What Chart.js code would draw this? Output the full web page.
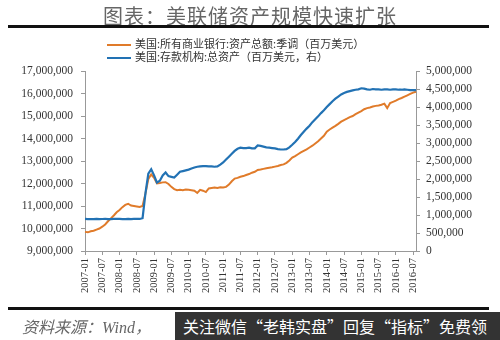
<!DOCTYPE html>
<html>
<head>
<meta charset="utf-8">
<script src="https://cdn.jsdelivr.net/npm/chart.js@4/dist/chart.umd.min.js"></script>
<style>
  html, body { margin: 0; padding: 0; background: #fff; }
  #wrap { position: relative; width: 500px; height: 340px; overflow: hidden; font-family: "Noto Sans CJK SC", sans-serif; }
  #c { position: absolute; left: 0; top: 0; }
  .title { position: absolute; top: 1px; left: 0; width: 500px; text-align: center; font-size: 20px; color: #666; letter-spacing: 1px; }
  .rule { position: absolute; left: 8px; width: 481px; height: 3px; background: #111; }
  .leg { position: absolute; left: 107px; font-size: 11px; color: #333; line-height: 13px; white-space: nowrap; }
  .leg i { display: inline-block; width: 24px; height: 2px; vertical-align: middle; margin-right: 4px; }
  .src { position: absolute; left: 22px; top: 314px; font-size: 16px; color: #666; font-style: italic; font-family: "Liberation Serif", "Noto Sans CJK SC", serif; }
  .mark { position: absolute; left: 175px; top: 312px; width: 325px; height: 28px; background: #333; color: #fff; font-size: 16px; line-height: 28px; padding-left: 8px; box-sizing: border-box; white-space: nowrap; }
</style>
</head>
<body>
<div id="wrap">
  <canvas id="c" width="500" height="340"></canvas>
  <div class="title">图表：美联储资产规模快速扩张</div>
  <div class="rule" style="top:25px"></div>
  <div class="leg" style="top:37px"><i style="background:#E07B2A"></i>美国:所有商业银行:资产总额:季调（百万美元）</div>
  <div class="leg" style="top:50px"><i style="background:#2272B4"></i>美国:存款机构:总资产（百万美元，右）</div>
  <div class="rule" style="top:307px"></div>
  <div class="src">资料来源：Wind，</div>
  <div class="mark">关注微信“老韩实盘”回复“指标”免费领</div>
</div>
<script>
// monthly, 2007-01 .. 2016-08
const startYear = 2007;
const monthCount = 116;

// 美国:所有商业银行:资产总额:季调（百万美元）- left axis
const bankAssets = [
  9850000, 9830000, 9880000, 9900000, 9950000, 10000000, 10080000, 10180000, 10320000, 10450000, 10580000, 10720000,
  10820000, 10950000, 11050000, 11100000, 11020000, 11000000, 10980000, 10960000, 11000000, 11550000, 12200000, 12400000,
  12250000, 12000000, 12020000, 12050000, 12060000, 11980000, 11850000, 11750000, 11700000, 11720000, 11700000, 11730000,
  11720000, 11700000, 11680000, 11580000, 11720000, 11680000, 11620000, 11780000, 11800000, 11820000, 11800000, 11830000,
  11820000, 11850000, 11950000, 12100000, 12220000, 12250000, 12300000, 12330000, 12380000, 12420000, 12480000, 12520000,
  12600000, 12620000, 12650000, 12680000, 12700000, 12720000, 12750000, 12780000, 12820000, 12850000, 12920000, 13020000,
  13150000, 13220000, 13300000, 13380000, 13450000, 13520000, 13600000, 13680000, 13780000, 13880000, 14000000, 14120000,
  14300000, 14400000, 14480000, 14560000, 14650000, 14750000, 14820000, 14880000, 14950000, 15000000, 15080000, 15150000,
  15220000, 15300000, 15350000, 15380000, 15420000, 15450000, 15470000, 15500000, 15550000, 15350000, 15580000, 15630000,
  15680000, 15750000, 15800000, 15860000, 15920000, 15980000, 16040000, 16080000
];

// 美国:存款机构:总资产（百万美元，右）- right axis
const fedAssets = [
  890000, 888000, 885000, 888000, 890000, 887000, 889000, 890000, 885000, 888000, 890000, 892000,
  890000, 888000, 886000, 890000, 888000, 891000, 893000, 890000, 910000, 1600000, 2150000, 2270000,
  2100000, 1900000, 1950000, 2100000, 2180000, 2080000, 2060000, 2040000, 2120000, 2200000, 2220000, 2240000,
  2260000, 2290000, 2320000, 2340000, 2350000, 2360000, 2360000, 2350000, 2350000, 2340000, 2350000, 2400000,
  2460000, 2540000, 2620000, 2700000, 2780000, 2840000, 2870000, 2860000, 2860000, 2870000, 2850000, 2850000,
  2930000, 2920000, 2900000, 2880000, 2870000, 2860000, 2850000, 2830000, 2820000, 2820000, 2830000, 2880000,
  2950000, 3030000, 3120000, 3220000, 3310000, 3400000, 3480000, 3580000, 3660000, 3740000, 3830000, 3910000,
  4000000, 4080000, 4160000, 4230000, 4290000, 4350000, 4390000, 4420000, 4440000, 4460000, 4480000, 4490000,
  4520000, 4510000, 4490000, 4480000, 4500000, 4490000, 4490000, 4480000, 4490000, 4490000, 4480000, 4490000,
  4490000, 4480000, 4480000, 4490000, 4480000, 4470000, 4470000, 4470000
];

const tickMonths = ['01', '07'];

const labels = [];
for (let i = 0; i < monthCount; i++) {
  const y = startYear + Math.floor(i / 12);
  const m = String(i % 12 + 1).padStart(2, '0');
  labels.push(y + '-' + m);
}

const fmt = v => Number(v).toLocaleString('en-US');
const tickFont = { family: '"Liberation Serif", "Times New Roman", serif', size: 11.5 };
const axisGrid = { drawOnChartArea: false, drawTicks: true, tickLength: 4, color: '#999' };

new Chart(document.getElementById('c'), {
  type: 'line',
  data: {
    labels,
    datasets: [
      { label: '美国:存款机构:总资产（百万美元，右）', data: fedAssets, yAxisID: 'y1',
        borderColor: '#2272B4', borderWidth: 2.2, pointRadius: 0, tension: 0 },
      { label: '美国:所有商业银行:资产总额:季调（百万美元）', data: bankAssets, yAxisID: 'y',
        borderColor: '#E07B2A', borderWidth: 2, pointRadius: 0, tension: 0 }
    ]
  },
  options: {
    responsive: false,
    animation: false,
    layout: { padding: { top: 71, left: 0, right: 0, bottom: 35 } },
    plugins: { legend: { display: false }, tooltip: { enabled: false } },
    scales: {
      x: {
        grid: axisGrid,
        border: { color: '#999' },
        afterFit: s => { s.height = 54; },
        ticks: {
          autoSkip: false, minRotation: 90, maxRotation: 90, padding: 3,
          color: '#333', font: { family: tickFont.family, size: 10.5 },
          callback: function (v) {
            const l = this.getLabelForValue(v);
            return tickMonths.includes(l.slice(5)) ? l : null;
          }
        }
      },
      y: {
        position: 'left', min: 9000000, max: 17000000,
        grid: axisGrid,
        border: { color: '#999' },
        afterFit: s => { s.width = 85; },
        ticks: { stepSize: 1000000, color: '#333', font: tickFont, padding: 8, callback: fmt }
      },
      y1: {
        position: 'right', min: 0, max: 5000000,
        grid: axisGrid,
        border: { color: '#999' },
        afterFit: s => { s.width = 84; },
        ticks: { stepSize: 500000, color: '#333', font: tickFont, padding: 6, callback: fmt }
      }
    }
  }
});
</script>
</body>
</html>
